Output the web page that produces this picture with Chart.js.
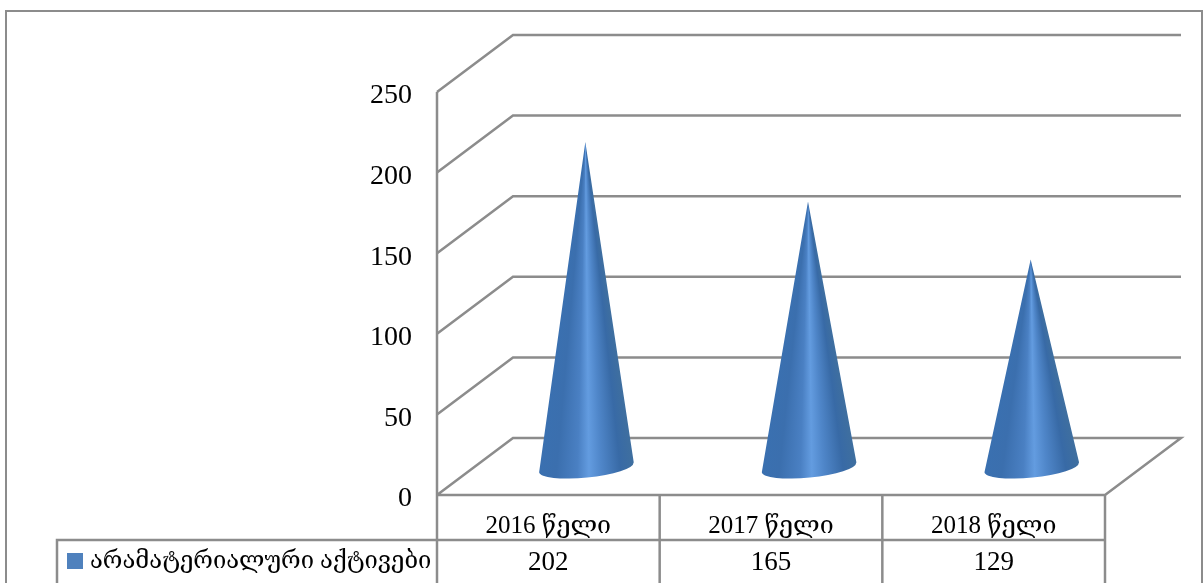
<!DOCTYPE html>
<html>
<head>
<meta charset="utf-8">
<script src="https://cdn.jsdelivr.net/npm/chart.js@4"></script>
<style>
  html, body { margin: 0; padding: 0; background: #fff; overflow: hidden; }
  .chart-container { position: relative; width: 1203px; height: 583px; }
</style>
</head>
<body>
<div class="chart-container"><canvas id="chart"></canvas></div>
<script>
const categories = ['2016 წელი', '2017 წელი', '2018 წელი'];
const values = [202, 165, 129];
const seriesName = 'არამატერიალური აქტივები';

const LINE = '#8c8c8c';
const FONT = '"Liberation Serif", "DejaVu Serif", serif';
// 3D box depth: back wall sits up and to the right of the front plane
const DEPTH_X = 76;
const DEPTH_Y = 57;
// cone shading, left edge to right edge
const CONE_STOPS = [
  [0, '#3a70b0'], [0.18, '#3b6fae'], [0.4, '#4a80c3'], [0.52, '#639ce0'],
  [0.65, '#4f86c9'], [0.85, '#386aa6'], [1, '#3f6f9f']
];

// back wall, side wall and floor, one bent line per y tick
const wallsPlugin = {
  id: 'walls',
  beforeDatasetsDraw(chart) {
    const { ctx, chartArea: a, scales: { y } } = chart;
    ctx.save();
    ctx.strokeStyle = LINE;
    ctx.lineWidth = 2.5;
    y.ticks.forEach(t => {
      const py = y.getPixelForValue(t.value);
      ctx.beginPath();
      ctx.moveTo(a.left, py);
      ctx.lineTo(a.left + DEPTH_X, py - DEPTH_Y);
      ctx.lineTo(a.right + DEPTH_X, py - DEPTH_Y);
      if (t.value === 0) {
        ctx.lineTo(a.right, py);
        ctx.lineTo(a.left, py);
      }
      ctx.stroke();
    });
    ctx.beginPath();
    ctx.moveTo(a.left, a.top);
    ctx.lineTo(a.left, a.bottom);
    ctx.stroke();
    ctx.restore();
  }
};

// cones stand in the middle of the box depth, sized from the bar elements
const conesPlugin = {
  id: 'cones',
  afterDatasetsDraw(chart) {
    const { ctx } = chart;
    chart.getDatasetMeta(0).data.forEach(bar => {
      const cx = bar.x + DEPTH_X / 2;
      const baseY = bar.base - DEPTH_Y / 2 + 1;
      const tipY = bar.y - DEPTH_Y / 2 + 1;
      const tipX = cx - 1;
      const rx = bar.width / 2;
      // shading fans out from the tip, so sweep a conic gradient across the cone
      const right = Math.atan2(baseY - 5 - tipY, rx + 1);
      const left = Math.atan2(baseY + 5 - tipY, -rx + 1);
      const span = (left - right) / (2 * Math.PI);
      const g = ctx.createConicGradient(right, tipX, tipY);
      CONE_STOPS.slice().reverse().forEach(([t, c]) => g.addColorStop((1 - t) * span, c));
      g.addColorStop(Math.min(1, span + 0.001), CONE_STOPS[0][1]);
      g.addColorStop(1, CONE_STOPS[0][1]);
      ctx.save();
      ctx.beginPath();
      ctx.moveTo(tipX, tipY);
      ctx.lineTo(cx + rx, baseY - 5);
      ctx.ellipse(cx, baseY, rx, 10, -0.1, 0, Math.PI);
      ctx.closePath();
      ctx.fillStyle = g;
      ctx.fill();
      ctx.restore();
    });
  }
};

// outer frame plus the data table under the plot
const tablePlugin = {
  id: 'dataTable',
  afterDraw(chart) {
    const { ctx, chartArea: a, scales: { x } } = chart;
    const rowTop = 540;
    const H = chart.height;
    const cellW = (a.right - a.left) / categories.length;
    ctx.save();
    ctx.strokeStyle = LINE;
    ctx.lineWidth = 2;
    ctx.strokeRect(6, 11, 1196, H);

    ctx.lineWidth = 2.5;
    ctx.beginPath();
    ctx.moveTo(57, H);
    ctx.lineTo(57, rowTop);
    ctx.lineTo(a.right, rowTop);
    ctx.stroke();
    for (let i = 0; i <= categories.length; i++) {
      const vx = a.left + cellW * i;
      ctx.beginPath();
      ctx.moveTo(vx, a.bottom);
      ctx.lineTo(vx, H);
      ctx.stroke();
    }

    ctx.fillStyle = '#4f81bd';
    ctx.fillRect(67, 553, 16, 16);

    ctx.fillStyle = '#000';
    ctx.textBaseline = 'middle';
    ctx.textAlign = 'left';
    ctx.font = '23.8px ' + FONT;
    ctx.fillText(seriesName, 90, 562);

    ctx.textAlign = 'center';
    ctx.font = '27px ' + FONT;
    values.forEach((v, i) => ctx.fillText(v, x.getPixelForValue(i), 563));
    ctx.restore();
  }
};

new Chart(document.getElementById('chart'), {
  type: 'bar',
  data: {
    labels: categories,
    datasets: [{
      label: seriesName,
      data: values,
      backgroundColor: 'rgba(0,0,0,0)',
      borderWidth: 0,
      barPercentage: 0.426,
      categoryPercentage: 1
    }]
  },
  plugins: [wallsPlugin, conesPlugin, tablePlugin],
  options: {
    responsive: true,
    maintainAspectRatio: false,
    animation: false,
    layout: { padding: { top: 92, right: 98, left: 0, bottom: 0 } },
    plugins: { legend: { display: false }, tooltip: { enabled: false } },
    scales: {
      x: {
        grid: { display: false },
        border: { display: false },
        afterFit(scale) { scale.height = 88; },
        ticks: { color: '#000', padding: 8, maxRotation: 0, font: { family: FONT, size: 25 } }
      },
      y: {
        min: 0,
        max: 250,
        grid: { display: false },
        border: { display: false },
        afterFit(scale) { scale.width = 437; },
        ticks: { stepSize: 50, color: '#000', padding: 17, labelOffset: 4, font: { family: FONT, size: 28 } }
      }
    }
  }
});
</script>
</body>
</html>
